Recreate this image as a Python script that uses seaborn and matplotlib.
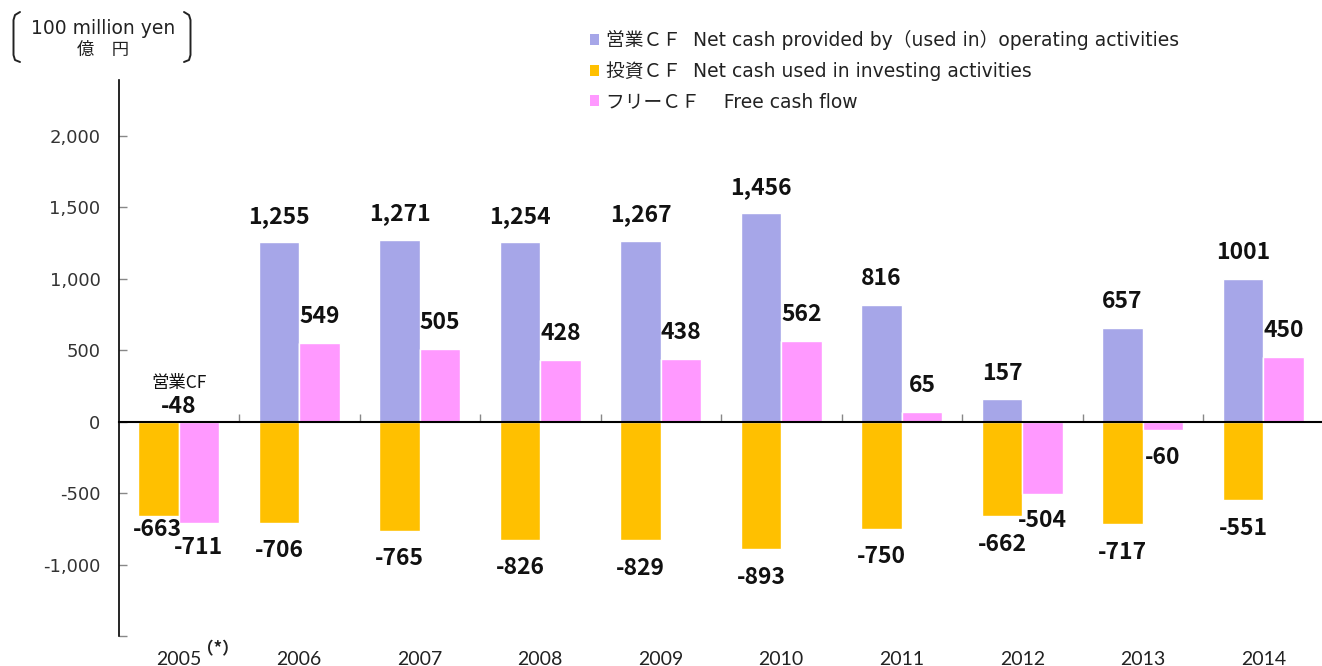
import numpy as np
import pandas as pd
import matplotlib
matplotlib.use("Agg")
import matplotlib.pyplot as plt
import matplotlib.transforms as mtransforms
from matplotlib.patches import Patch
from matplotlib.lines import Line2D
import seaborn as sns

# ---------------- data ----------------
years = ["2005", "2006", "2007", "2008", "2009", "2010", "2011", "2012", "2013", "2014"]
operating = [-48, 1255, 1271, 1254, 1267, 1456, 816, 157, 657, 1001]
investing = [-663, -706, -765, -826, -829, -893, -750, -662, -717, -551]
free_cf = [-711, 549, 505, 428, 438, 562, 65, -504, -60, 450]
op_labels = ["-48", "1,255", "1,271", "1,254", "1,267", "1,456", "816", "157", "657", "1001"]
inv_labels = ["-663", "-706", "-765", "-826", "-829", "-893", "-750", "-662", "-717", "-551"]
fcf_labels = ["-711", "549", "505", "428", "438", "562", "65", "-504", "-60", "450"]
series_names = [
    "営業ＣＦ  Net cash provided by（used in）operating activities",
    "投資ＣＦ  Net cash used in investing activities",
    "フリーＣＦ    Free cash flow",
]
y_ticks = [-1500, -1000, -500, 0, 500, 1000, 1500, 2000]

PURPLE = "#A6A6E8"
GOLD = "#FFC000"
PINK = "#FF99FF"

sns.set_theme(style="white")
plt.rcParams["font.family"] = ["Noto Sans CJK JP", "DejaVu Sans"]
LATIN = ["DejaVu Sans", "Noto Sans CJK JP"]

W, H = 1322, 666
fig = plt.figure(figsize=(W / 100, H / 100), dpi=100)
ax = fig.add_axes([118.5 / W, (H - 636) / H, 1205 / W, 556 / H])

left_df = pd.DataFrame({"year": years, "value": operating, "slot": "L"})
right_df = pd.DataFrame({"year": years, "value": free_cf, "slot": "R"})
inv_df = pd.DataFrame({"year": years, "value": investing, "slot": "L"})

sns.barplot(data=pd.concat([left_df, right_df], ignore_index=True), x="year", y="value",
            hue="slot", hue_order=["L", "R"], palette={"L": PURPLE, "R": PINK},
            width=0.67, edgecolor="white", linewidth=1, errorbar=None, legend=False,
            saturation=1, ax=ax)
sns.barplot(data=pd.concat([inv_df, right_df], ignore_index=True), x="year", y="value",
            hue="slot", hue_order=["L", "R"], palette={"L": GOLD, "R": PINK},
            width=0.67, edgecolor="white", linewidth=1, errorbar=None, legend=False,
            saturation=1, ax=ax)

ax.set_xlim(-0.5, len(years) - 0.5)
ax.set_ylim(-1500, 2390)
ax.set_xlabel("")
ax.set_ylabel("")

# spines
ax.spines["top"].set_visible(False)
ax.spines["right"].set_visible(False)
ax.spines["left"].set_color("black")
ax.spines["left"].set_linewidth(1.2)
ax.spines["bottom"].set_position(("data", 0))
ax.spines["bottom"].set_color("black")
ax.spines["bottom"].set_linewidth(1.5)
ax.spines["bottom"].set_zorder(5)

# x ticks on zero line: category boundaries
ax.set_xticks(np.arange(0.5, len(years) - 0.5, 1.0))
ax.set_xticklabels([])
ax.tick_params(axis="x", direction="in", length=6, color="#888888", width=1, bottom=True)

# y ticks
ax.set_yticks(y_ticks)
ax.set_yticklabels(["" if v == -1500 else f"{v:,}" for v in y_ticks])
ax.tick_params(axis="y", direction="in", length=6, color="#888888", width=1, left=True,
               labelsize=13, labelcolor="#333333", pad=13)
for t in ax.get_yticklabels():
    t.set_fontfamily(["DejaVu Sans"])

# year labels at bottom
sec = ax.secondary_xaxis(0)
sec.set_xticks(range(len(years)))
sec.set_xticklabels(years, fontsize=14, color="#222222", fontfamily=["Lato", "DejaVu Sans"])
sec.tick_params(length=0, pad=11)
sec.spines["bottom"].set_visible(False)
blend = mtransforms.blended_transform_factory(ax.transData, ax.transAxes)
ax.annotate("（*）", xy=(0, 0), xycoords=blend, xytext=(39 * 0.72, -13 * 0.72),
            textcoords="offset points", ha="center", va="center", fontsize=12,
            fontweight="bold", color="#222222", annotation_clip=False)

# value labels
OFF = 0.1675


def label(x, y, text, dx, dy, size=16.5, weight="bold"):
    ax.annotate(text, xy=(x, y), xytext=(dx * 0.72, dy * 0.72), textcoords="offset points",
                ha="center", va="center", fontsize=size, fontweight=weight, color="#111111",
                annotation_clip=False)


for i in range(len(years)):
    if i == 0:
        label(i, 0, op_labels[i], 0, 15)
        label(i, 0, "営業CF", 0, 39, size=12.5, weight="normal")
        label(i - OFF, investing[i], inv_labels[i], -1, -13)
        label(i + OFF, free_cf[i], fcf_labels[i], 0, -24)
        continue
    label(i - OFF, operating[i], op_labels[i], 0, 26)
    label(i - OFF, investing[i], inv_labels[i], 0, -28)
    s = 1 if free_cf[i] >= 0 else -1
    label(i + OFF, free_cf[i], fcf_labels[i], 0, s * 27)

# legend
handles = [Patch(facecolor=c, edgecolor="none") for c in (PURPLE, GOLD, PINK)]
fig.legend(handles, series_names, loc="upper left", bbox_to_anchor=(590 / W, 1 - 30 / H),
           frameon=False, prop={"family": LATIN, "size": 13.5}, handlelength=0.5,
           handleheight=0.5, handletextpad=0.35, labelspacing=0.6, borderaxespad=0,
           borderpad=0, labelcolor="#222222")

# unit label with brackets
fig.text(103 / W, 1 - 28 / H, "100 million yen", ha="center", va="center", fontsize=13.5,
         color="#222222", family=LATIN)
fig.text(103 / W, 1 - 50 / H, "億　円", ha="center", va="center", fontsize=12.5,
         color="#222222")


def fx(px):
    return px / W


def fy(py):
    return 1 - py / H


lb = Line2D([fx(20), fx(15), fx(13.5), fx(13.5), fx(15), fx(20)],
            [fy(12), fy(15), fy(20), fy(55), fy(60), fy(62)],
            transform=fig.transFigure, color="#222222", lw=1.4)
rb = Line2D([fx(184), fx(189), fx(190.5), fx(190.5), fx(189), fx(184)],
            [fy(12), fy(15), fy(20), fy(55), fy(60), fy(62)],
            transform=fig.transFigure, color="#222222", lw=1.4)
fig.add_artist(lb)
fig.add_artist(rb)

fig.savefig("out.png", dpi=100)
